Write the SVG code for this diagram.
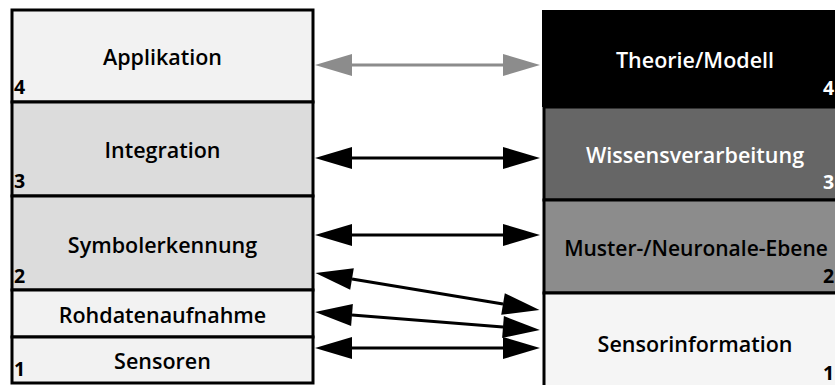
<svg xmlns="http://www.w3.org/2000/svg" width="835" height="385" viewBox="0 0 835 385">
  <style>
    .lbl { font-family: "Open Sans", "Liberation Sans", sans-serif; font-weight: 600; font-size: 21.5px; text-anchor: middle; }
    .small { font-size: 21px; }
    .num { font-family: "Open Sans", "Liberation Sans", sans-serif; font-weight: bold; font-size: 19.5px; }
    .box { stroke: #000; stroke-width: 3; }
    .dark { fill: #fff; }
    .arrow { stroke: #000; stroke-width: 3; fill: none; marker-start: url(#head); marker-end: url(#head); }
    .arrow.grey { stroke: #8c8c8c; marker-start: url(#headGrey); marker-end: url(#headGrey); }
  </style>
  <defs>
    <marker id="head" markerUnits="userSpaceOnUse" markerWidth="40" markerHeight="24" refX="0" refY="11" orient="auto-start-reverse" overflow="visible">
      <path d="M0,0 L37,11 L0,22 z" fill="#000"/>
    </marker>
    <marker id="headGrey" markerUnits="userSpaceOnUse" markerWidth="40" markerHeight="24" refX="0" refY="11" orient="auto-start-reverse" overflow="visible">
      <path d="M0,0 L37,11 L0,22 z" fill="#8c8c8c"/>
    </marker>
  </defs>

  <!-- left stack -->
  <g id="applikation">
    <rect class="box" x="12" y="10" width="301" height="92" fill="#f2f2f2"/>
    <text class="lbl" x="162.5" y="65">Applikation</text>
    <text class="num" x="14" y="94">4</text>
  </g>
  <g id="integration">
    <rect class="box" x="12" y="102" width="301" height="94" fill="#dcdcdc"/>
    <text class="lbl" x="162.5" y="158">Integration</text>
    <text class="num" x="14" y="188">3</text>
  </g>
  <g id="symbolerkennung">
    <rect class="box" x="12" y="196" width="301" height="94" fill="#dcdcdc"/>
    <text class="lbl" x="162.5" y="253">Symbolerkennung</text>
    <text class="num" x="14" y="283">2</text>
  </g>
  <g id="rohdatenaufnahme">
    <rect class="box" x="12" y="290" width="301" height="47" fill="#f2f2f2"/>
    <text class="lbl" x="162.5" y="322.5">Rohdatenaufnahme</text>
  </g>
  <g id="sensoren">
    <rect class="box" x="12" y="337" width="301" height="46" fill="#f2f2f2"/>
    <text class="lbl" x="162.5" y="369">Sensoren</text>
    <text class="num" x="14" y="376">1</text>
  </g>

  <!-- right stack -->
  <g id="theorie">
    <rect x="542" y="10" width="310" height="97" fill="#000"/>
    <text class="lbl dark" x="695" y="68">Theorie/Modell</text>
    <text class="num dark" x="823" y="94.5">4</text>
  </g>
  <g id="wissensverarbeitung">
    <rect class="box" x="544" y="107" width="310" height="93" fill="#666"/>
    <text class="lbl dark" x="695" y="163">Wissensverarbeitung</text>
    <text class="num dark" x="823" y="188.5">3</text>
  </g>
  <g id="muster">
    <rect class="box" x="544" y="200" width="310" height="93" fill="#8c8c8c"/>
    <text class="lbl small" x="696" y="255.5">Muster-/Neuronale-Ebene</text>
    <text class="num" x="823" y="283">2</text>
  </g>
  <g id="sensorinformation">
    <rect class="box" x="544" y="293" width="310" height="100" fill="#f5f5f5"/>
    <text class="lbl" x="695" y="352">Sensorinformation</text>
    <text class="num" x="823" y="380">1</text>
  </g>

  <!-- connectors -->
  <g id="connectors">
    <line class="arrow grey" x1="352" y1="65" x2="503" y2="65"/>
    <line class="arrow" x1="352" y1="158" x2="503" y2="158"/>
    <line class="arrow" x1="352" y1="235" x2="503" y2="235"/>
    <line class="arrow" x1="352" y1="279" x2="503" y2="304"/>
    <line class="arrow" x1="352" y1="315" x2="503" y2="327"/>
    <line class="arrow" x1="352" y1="348" x2="503" y2="348"/>
  </g>
</svg>
